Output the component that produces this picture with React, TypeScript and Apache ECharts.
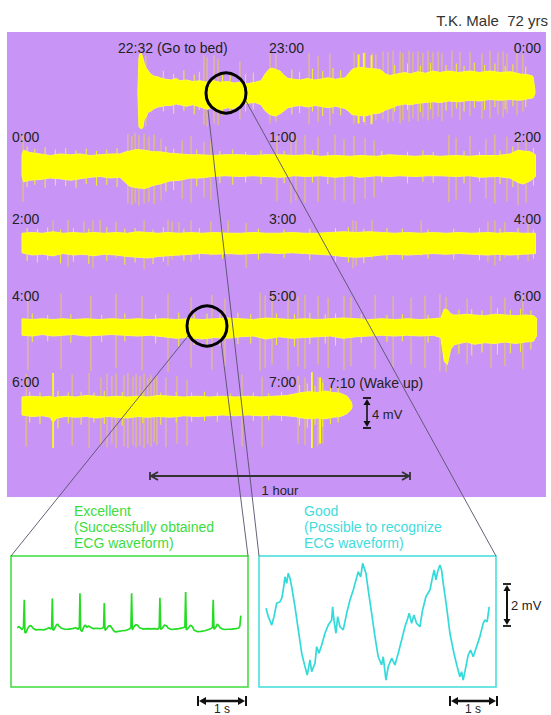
import React, { useEffect, useRef } from "react";
import * as echarts from "echarts";

// ---------- DATA ----------
// Each overnight row covers two clock hours.
const rowHourStart = [22, 0, 2, 4, 6];
const rowLabelLeft = ["22:32 (Go to bed)", "0:00", "2:00", "4:00", "6:00"];
const rowLabelMid = ["23:00", "1:00", "3:00", "5:00", "7:00"];
const rowLabelRight = ["0:00", "2:00", "4:00", "6:00", "7:10 (Wake up)"];

// Envelopes of the dense ECG trace: [clock hour, upper mV, lower mV]
const env1 = [
  [22.451, 0.3, -0.3], [22.455, 4.6, -4.6], [22.463, 5.2, -4.9], [22.47, 4.6, -4.8], [22.476, 3.8, -3.6],
  [22.483, 3.2, -3.4], [22.49, 2.9, -2.7], [22.5, 2.4, -2.6], [22.515, 2.1, -2.2], [22.53, 2.0, -2.0],
  [22.545, 1.8, -1.9], [22.56, 1.7, -1.8], [22.58, 1.6, -1.8], [22.6, 1.8, -1.6], [22.615, 1.5, -1.7],
  [22.64, 1.6, -1.9], [22.665, 1.4, -1.7], [22.693, 1.5, -2.0], [22.72, 1.3, -2.3], [22.745, 1.5, -2.0],
  [22.77, 1.3, -2.4], [22.8, 1.4, -2.1], [22.825, 1.2, -2.2], [22.848, 1.3, -1.7], [22.875, 1.1, -1.5],
  [22.907, 1.3, -1.4], [22.93, 1.5, -1.7], [22.946, 2.4, -2.5], [22.96, 3.0, -2.9], [22.973, 3.2, -3.1],
  [22.988, 3.0, -3.2], [23.004, 2.8, -2.9], [23.02, 2.2, -2.5], [23.035, 1.8, -2.1], [23.06, 1.7, -1.9],
  [23.082, 1.6, -1.8], [23.11, 1.8, -2.0], [23.14, 1.6, -1.8], [23.16, 1.7, -1.9], [23.19, 1.9, -2.1],
  [23.22, 1.7, -1.9], [23.257, 1.9, -2.2], [23.272, 2.5, -2.6], [23.284, 3.0, -3.0], [23.31, 3.3, -3.1],
  [23.335, 3.2, -3.2], [23.365, 3.1, -2.9], [23.393, 3.0, -2.8], [23.415, 2.4, -2.4], [23.432, 2.2, -2.2],
  [23.46, 2.4, -1.8], [23.49, 2.6, -1.6], [23.51, 2.4, -1.7], [23.54, 2.7, -1.5], [23.57, 2.5, -1.4],
  [23.6, 2.8, -1.3], [23.626, 2.6, -1.4], [23.66, 2.8, -1.2], [23.7, 2.6, -1.3], [23.743, 2.8, -1.1],
  [23.78, 2.6, -1.2], [23.82, 2.8, -1.0], [23.86, 2.6, -1.1], [23.9, 2.7, -1.0], [23.938, 2.4, -1.1],
  [23.97, 2.3, -0.9], [23.988, 2.1, -0.8], [23.996, 0.2, -0.2],
];
const env2 = [
  [0.0, 1.5, -1.3], [0.006, 2.1, -2.1], [0.03, 1.8, -1.9], [0.07, 1.6, -1.8], [0.11, 1.4, -1.6],
  [0.148, 1.6, -1.7], [0.19, 1.5, -1.9], [0.226, 1.6, -1.7], [0.265, 1.4, -1.5], [0.304, 1.5, -1.4],
  [0.345, 1.6, -1.6], [0.381, 1.6, -1.5], [0.405, 1.9, -2.3], [0.42, 2.0, -2.7], [0.445, 2.2, -2.9],
  [0.479, 2.1, -3.0], [0.51, 1.9, -2.6], [0.537, 1.9, -2.4], [0.575, 1.7, -2.0], [0.615, 1.6, -1.9],
  [0.655, 1.5, -1.6], [0.693, 1.5, -1.6], [0.74, 1.4, -1.4], [0.79, 1.5, -1.3], [0.848, 1.5, -1.4],
  [0.9, 1.4, -1.3], [0.95, 1.5, -1.4], [1.004, 1.5, -1.5], [1.06, 1.4, -1.3], [1.11, 1.5, -1.4],
  [1.16, 1.3, -1.3], [1.22, 1.4, -1.5], [1.28, 1.3, -1.3], [1.315, 1.4, -1.5], [1.38, 1.3, -1.3],
  [1.43, 1.5, -1.4], [1.471, 1.4, -1.3], [1.53, 1.3, -1.4], [1.58, 1.4, -1.3], [1.626, 1.3, -1.3],
  [1.69, 1.4, -1.4], [1.74, 1.3, -1.3], [1.782, 1.4, -1.5], [1.85, 1.4, -1.4], [1.899, 1.6, -1.6],
  [1.93, 2.1, -2.2], [1.95, 2.0, -2.4], [1.977, 1.9, -2.0], [1.998, 1.5, -1.4],
];
const env3 = [
  [2.0, 1.3, -1.3], [2.04, 1.4, -1.6], [2.08, 1.3, -1.5], [2.121, 1.5, -1.7], [2.16, 1.3, -1.4],
  [2.2, 1.4, -1.6], [2.241, 1.3, -1.5], [2.28, 1.4, -1.7], [2.32, 1.3, -1.5], [2.366, 1.4, -1.6],
  [2.41, 1.3, -1.8], [2.45, 1.5, -1.9], [2.49, 1.4, -2.0], [2.53, 1.3, -1.8], [2.568, 1.4, -1.7],
  [2.611, 1.3, -1.6], [2.658, 1.4, -1.5], [2.7, 1.3, -1.4], [2.75, 1.4, -1.5], [2.802, 1.3, -1.4],
  [2.85, 1.3, -1.5], [2.9, 1.4, -1.4], [2.95, 1.3, -1.3], [3.0, 1.3, -1.4], [3.05, 1.4, -1.3],
  [3.1, 1.3, -1.4], [3.15, 1.3, -1.5], [3.2, 1.4, -1.6], [3.25, 1.5, -1.8], [3.3, 1.4, -1.9],
  [3.35, 1.5, -1.8], [3.4, 1.4, -1.6], [3.45, 1.3, -1.5], [3.5, 1.4, -1.6], [3.553, 1.3, -1.5],
  [3.6, 1.4, -1.4], [3.65, 1.3, -1.5], [3.7, 1.4, -1.4], [3.75, 1.3, -1.5], [3.813, 1.4, -1.6],
  [3.85, 1.3, -1.5], [3.9, 1.4, -1.6], [3.95, 1.3, -1.5], [3.998, 1.3, -1.4],
];
const env4 = [
  [4.0, 1.1, -1.1], [4.04, 1.0, -1.2], [4.08, 1.1, -1.0], [4.12, 1.0, -1.2], [4.16, 1.1, -1.1],
  [4.2, 1.0, -1.0], [4.25, 1.1, -1.2], [4.3, 1.0, -1.1], [4.35, 1.1, -1.0], [4.4, 1.0, -1.1],
  [4.45, 1.1, -1.2], [4.5, 1.0, -1.1], [4.55, 1.1, -1.3], [4.6, 1.0, -1.5], [4.65, 1.1, -1.4],
  [4.7, 1.0, -1.6], [4.75, 1.1, -1.4], [4.8, 1.2, -1.5], [4.85, 1.1, -1.3], [4.9, 1.0, -1.2],
  [4.95, 1.2, -1.6], [5.0, 1.1, -1.3], [5.05, 1.0, -1.5], [5.1, 1.1, -1.4], [5.15, 1.0, -1.3],
  [5.2, 1.1, -1.2], [5.25, 1.2, -1.5], [5.3, 1.1, -1.3], [5.35, 1.0, -1.2], [5.4, 1.1, -1.1],
  [5.45, 1.0, -1.2], [5.5, 1.1, -1.1], [5.55, 1.0, -1.2], [5.6, 1.1, -1.1], [5.63, 1.2, -1.4],
  [5.643, 2.4, -4.6], [5.655, 2.3, -5.0], [5.668, 1.8, -3.0], [5.68, 1.6, -2.4], [5.7, 1.6, -2.2],
  [5.73, 1.7, -2.0], [5.76, 1.6, -2.3], [5.8, 1.5, -2.1], [5.84, 1.7, -2.2], [5.88, 1.6, -2.0],
  [5.92, 1.5, -2.2], [5.96, 1.6, -2.0], [5.99, 1.5, -1.9], [6.002, 1.2, -1.2],
];
const env5 = [
  [6.0, 1.2, -1.2], [6.04, 1.3, -1.4], [6.08, 1.2, -1.3], [6.11, 1.3, -1.5], [6.121, 1.1, -2.2],
  [6.135, 1.2, -1.6], [6.17, 1.3, -1.4], [6.21, 1.2, -1.5], [6.25, 1.4, -1.4], [6.29, 1.3, -1.6],
  [6.33, 1.2, -1.4], [6.37, 1.3, -1.5], [6.41, 1.2, -1.6], [6.45, 1.3, -1.4], [6.49, 1.2, -1.5],
  [6.53, 1.4, -1.4], [6.58, 1.3, -1.5], [6.63, 1.2, -1.3], [6.68, 1.3, -1.4], [6.73, 1.2, -1.3],
  [6.78, 1.3, -1.2], [6.83, 1.2, -1.3], [6.88, 1.3, -1.2], [6.93, 1.2, -1.3], [6.98, 1.3, -1.2],
  [7.03, 1.4, -1.3], [7.06, 1.6, -1.4], [7.09, 1.8, -1.6], [7.12, 1.9, -1.7], [7.15, 1.8, -1.6],
  [7.18, 2.0, -1.7], [7.21, 1.8, -1.5], [7.24, 1.7, -1.4], [7.265, 1.3, -1.0], [7.28, 0.6, -0.5],
  [7.284, 0.2, -0.2],
];

// Tall artefact spikes: [clock hour, top mV, bottom mV]
const spikes1 = [
  [22.467, 5.0, -4.8], [22.482, 4.8, -4.6], [22.708, 4.9, -4.4], [22.72, 4.6, -4.6], [22.747, 4.9, -4.2],
  [22.763, 4.4, -4.5], [22.848, 4.1, -3.6], [22.965, 5.2, -4.2], [22.988, 5.0, -4.0], [23.117, 5.2, -4.3],
  [23.152, 4.8, -4.0], [23.198, 5.1, -4.4], [23.292, 5.3, -4.3], [23.307, 5.0, -4.1], [23.335, 5.3, -4.4],
  [23.362, 5.2, -4.0], [23.377, 5.0, -3.8], [23.405, 5.4, -3.6], [23.424, 5.3, -4.1], [23.444, 5.5, -3.9],
  [23.471, 5.4, -4.2], [23.482, 5.2, -3.7], [23.506, 5.5, -4.0], [23.521, 5.3, -3.5], [23.541, 5.4, -3.9],
  [23.56, 5.2, -3.4], [23.58, 5.5, -3.8], [23.599, 5.3, -3.6], [23.619, 5.4, -3.3], [23.634, 5.2, -3.9],
  [23.673, 5.5, -3.4], [23.704, 5.3, -3.7], [23.743, 5.4, -3.2], [23.79, 5.2, -3.6], [23.821, 5.5, -3.5],
  [23.852, 5.3, -3.0], [23.872, 5.4, -3.4], [23.887, 5.1, -2.8], [23.926, 5.3, -3.1], [23.949, 5.0, -2.6],
];
const spikes2 = [
  [0.004, 4.2, -4.8], [0.412, 4.3, -5.0], [0.428, 4.0, -5.2], [0.44, 4.4, -4.9], [0.455, 4.1, -5.3],
  [0.475, 4.3, -5.0], [0.494, 3.9, -4.8], [0.514, 4.2, -5.1], [0.541, 3.6, -4.6], [0.623, 3.4, -4.4],
  [0.658, 4.0, -4.9], [0.708, 3.2, -4.2], [0.735, 3.5, -4.5], [0.992, 4.0, -4.7], [1.047, 4.3, -5.0],
  [1.066, 3.8, -4.6], [1.101, 4.1, -4.9], [1.152, 3.9, -4.8], [1.218, 4.2, -4.5], [1.253, 3.6, -4.7],
  [1.292, 4.0, -5.0], [1.335, 3.7, -4.4], [1.37, 3.4, -4.2], [1.661, 4.1, -4.8], [1.689, 3.8, -4.5],
  [1.743, 4.0, -4.9], [1.805, 3.6, -4.3], [1.84, 4.2, -5.0], [1.887, 3.9, -4.7], [1.93, 4.3, -5.2],
  [1.961, 4.1, -4.9],
];
const spikes3 = [
  [2.121, 3.0, -1.8], [2.179, 3.1, -3.2], [2.241, 2.9, -1.7], [2.276, 3.0, -3.4], [2.304, 3.1, -1.6],
  [2.366, 2.8, -2.0], [2.475, 3.0, -3.5], [2.568, 3.1, -3.0], [2.584, 2.9, -2.2], [2.611, 2.8, -1.8],
  [2.658, 3.0, -2.5], [2.735, 2.9, -1.7], [2.802, 3.0, -1.8], [2.872, 2.7, -3.3], [3.288, 3.0, -3.4],
  [3.3, 2.9, -3.0], [3.362, 3.1, -2.2], [3.553, 3.0, -1.8], [3.813, 2.9, -2.6], [3.84, 3.0, -3.0],
  [3.879, 2.8, -2.0], [3.969, 3.0, -2.4],
];
const spikes4 = [
  [4.023, 4.3, -5.8], [4.152, 4.5, -5.6], [4.268, 4.2, -5.9], [4.366, 4.4, -5.5], [4.467, 4.1, -5.8],
  [4.568, 4.5, -6.0], [4.658, 4.0, -5.4], [4.739, 4.3, -5.7], [4.79, 3.8, -5.2], [4.926, 4.6, -5.9],
  [4.946, 4.2, -5.5], [4.973, 4.4, -5.0], [5.035, 4.5, -5.8], [5.074, 4.0, -5.3], [5.101, 4.3, -5.6],
  [5.152, 4.1, -5.0], [5.191, 3.9, -5.5], [5.253, 4.2, -5.7], [5.28, 4.0, -5.2], [5.374, 4.3, -5.6],
  [5.444, 4.1, -5.4], [5.514, 3.9, -5.0], [5.568, 4.2, -5.5], [5.626, 4.4, -5.9], [5.65, 4.0, -6.0],
  [5.732, 3.8, -5.0], [5.825, 4.1, -5.4], [5.879, 3.9, -5.2], [5.949, 4.2, -5.6],
];
const spikes5 = [
  [6.016, 4.3, -5.4], [6.195, 4.2, -5.3], [6.261, 4.4, -5.6], [6.307, 3.8, -5.2], [6.331, 4.3, -5.5],
  [6.35, 4.0, -5.0], [6.366, 4.4, -5.6], [6.397, 4.1, -5.4], [6.412, 4.4, -5.6], [6.432, 3.9, -5.2],
  [6.444, 4.2, -5.5], [6.459, 4.0, -5.3], [6.475, 4.3, -5.6], [6.49, 3.7, -5.0], [6.502, 4.1, -5.4],
  [6.514, 3.6, -4.8], [6.525, 4.0, -5.2], [6.56, 3.8, -5.5], [6.603, 4.0, -5.0], [6.642, 3.5, -5.3],
  [6.856, 4.2, -5.4], [6.934, 3.9, -5.5], [7.074, 4.0, -5.0], [7.101, 3.8, -5.2], [7.152, 3.9, -5.3],
  [7.171, 3.6, -5.0],
];
// Bright, thicker bursts
const bright1 = [[22.459, 5.1, -4.8], [23.31, 5.0, -4.2], [23.33, 5.2, -4.0], [23.36, 4.9, -4.3]];
const bright5 = [[6.121, 4.4, -5.6], [7.128, 4.5, -5.6], [7.16, 3.8, -5.0]];
// Short noise bursts poking out of the band edges
const hair1 = [
  [22.55, 2.8, -2.6], [22.59, 2.4, -2.9], [22.63, 2.9, -2.5], [22.67, 2.3, -3.0], [22.69, 2.7, -2.4],
  [22.78, 2.5, -3.1], [22.81, 2.2, -2.8], [22.87, 2.4, -2.6], [22.9, 2.6, -2.3], [23.05, 3.0, -3.0],
  [23.08, 2.7, -2.8], [23.13, 3.1, -2.6], [23.17, 2.8, -3.2], [23.21, 3.2, -2.9], [23.24, 2.9, -3.1],
  [23.45, 3.6, -2.6], [23.5, 3.8, -2.4], [23.55, 3.5, -2.7], [23.59, 3.9, -2.3], [23.65, 3.6, -2.5],
  [23.69, 3.8, -2.2], [23.72, 3.5, -2.6], [23.76, 3.9, -2.1], [23.8, 3.6, -2.4], [23.84, 3.8, -2.0],
  [23.88, 3.5, -2.3], [23.91, 3.7, -1.9], [23.96, 3.4, -2.0],
];
const hair2 = [
  [0.02, 2.6, -2.8], [0.05, 2.3, -2.5], [0.09, 2.5, -2.9], [0.13, 2.2, -2.6], [0.17, 2.4, -2.7],
  [0.21, 2.1, -2.9], [0.25, 2.3, -2.4], [0.29, 2.0, -2.6], [0.33, 2.2, -2.5], [0.37, 2.4, -2.8],
  [0.56, 2.6, -3.4], [0.59, 2.3, -3.2], [0.68, 2.2, -2.7], [0.77, 2.0, -2.3], [0.82, 2.2, -2.5],
  [0.87, 1.9, -2.2], [0.93, 2.1, -2.4], [1.02, 2.0, -2.3], [1.13, 2.1, -2.2], [1.19, 1.9, -2.4],
  [1.4, 2.0, -2.2], [1.5, 1.9, -2.3], [1.56, 2.1, -2.1], [1.6, 1.9, -2.2], [1.72, 2.0, -2.3],
  [1.78, 1.9, -2.1], [1.86, 2.1, -2.4], [1.91, 2.6, -2.8], [1.99, 2.4, -2.6],
];
const hair3 = [
  [2.02, 2.0, -2.4], [2.06, 1.9, -2.6], [2.1, 2.1, -2.3], [2.15, 1.8, -2.7], [2.2, 2.0, -2.5],
  [2.26, 1.9, -2.8], [2.33, 2.1, -2.4], [2.4, 1.9, -2.9], [2.44, 2.0, -2.6], [2.51, 1.8, -2.8],
  [2.55, 2.1, -2.5], [2.63, 1.9, -2.4], [2.69, 2.0, -2.2], [2.78, 1.8, -2.1], [2.92, 1.9, -2.2],
  [3.02, 1.8, -2.0], [3.12, 1.9, -2.3], [3.22, 2.0, -2.5], [3.27, 2.1, -2.6], [3.33, 1.9, -2.7],
  [3.42, 2.0, -2.3], [3.48, 1.9, -2.2], [3.58, 1.8, -2.1], [3.68, 1.9, -2.2], [3.78, 2.0, -2.3],
  [3.86, 1.9, -2.4], [3.93, 2.0, -2.2], [3.99, 1.8, -2.1],
];
const hair4 = [
  [4.04, 1.8, -2.0], [4.1, 1.6, -1.9], [4.19, 1.7, -2.1], [4.31, 1.6, -2.0], [4.4, 1.8, -1.9],
  [4.52, 1.7, -2.2], [4.61, 1.9, -2.6], [4.67, 1.7, -2.4], [4.72, 1.8, -2.7], [4.77, 1.7, -2.5],
  [4.84, 1.9, -2.3], [4.89, 1.7, -2.2], [4.99, 1.8, -2.4], [5.06, 1.7, -2.6], [5.12, 1.9, -2.3],
  [5.18, 1.7, -2.2], [5.22, 1.8, -2.5], [5.32, 1.7, -2.1], [5.42, 1.6, -2.0], [5.48, 1.7, -1.9],
  [5.58, 1.6, -2.1], [5.7, 2.3, -3.6], [5.75, 2.4, -3.8], [5.79, 2.2, -3.4], [5.85, 2.5, -3.7],
  [5.9, 2.3, -3.5], [5.94, 2.4, -3.3], [5.98, 2.2, -3.0],
];
const hair5 = [
  [6.03, 1.9, -2.2], [6.07, 1.8, -2.4], [6.14, 2.0, -3.0], [6.18, 1.8, -2.3], [6.23, 1.9, -2.5],
  [6.28, 1.8, -2.2], [6.32, 2.0, -2.4], [6.39, 1.9, -2.6], [6.47, 2.0, -2.3], [6.54, 1.8, -2.5],
  [6.6, 1.9, -2.2], [6.66, 1.8, -2.1], [6.71, 1.9, -2.0], [6.76, 1.8, -2.1], [6.81, 1.7, -1.9],
  [6.9, 1.8, -2.0], [6.96, 1.7, -1.9], [7.01, 1.9, -2.0], [7.08, 2.8, -2.6], [7.11, 3.0, -2.9],
  [7.14, 2.7, -2.5], [7.17, 3.1, -2.8], [7.2, 2.6, -2.4], [7.23, 2.5, -2.2],
];

const envelopes = [env1, env2, env3, env4, env5];
const spikes = [spikes1, spikes2, spikes3, spikes4, spikes5];
const brights = [bright1, [], [], [], bright5];
const hairs = [hair1, hair2, hair3, hair4, hair5];

// Close-up traces: [seconds, mV]
const excellentECG = [
  [0.13, 0.02], [0.17, 0.08], [0.2, 0.0], [0.235, -0.06], [0.26, 0.05], [0.277, 1.36], [0.29, -0.2],
  [0.31, -0.22], [0.34, -0.05], [0.38, 0.1], [0.42, 0.12], [0.46, 0.0], [0.52, -0.08], [0.6, -0.06],
  [0.68, -0.08], [0.74, -0.04], [0.79, 0.02], [0.83, -0.04], [0.848, 0.05], [0.861, 1.42], [0.875, -0.1],
  [0.9, -0.05], [0.94, 0.14], [0.97, 0.2], [1.0, 0.1], [1.05, 0.0], [1.12, -0.05], [1.2, -0.04],
  [1.28, -0.02], [1.35, 0.02], [1.4, -0.05], [1.425, 0.05], [1.4375, 1.66], [1.45, -0.08], [1.48, -0.15],
  [1.52, 0.08], [1.55, 0.15], [1.58, 0.05], [1.62, 0.1], [1.66, 0.05], [1.72, -0.02], [1.78, 0.0],
  [1.84, -0.02], [1.9, 0.0], [1.93, 0.04], [1.944, 1.2], [1.96, -0.1], [2.0, 0.0], [2.03, 0.1],
  [2.07, 0.12], [2.1, 0.02], [2.14, -0.12], [2.18, -0.18], [2.24, -0.15], [2.32, -0.12], [2.4, -0.1],
  [2.47, -0.04], [2.5, 0.04], [2.514, 1.66], [2.53, -0.08], [2.56, 0.06], [2.6, 0.17], [2.64, 0.14],
  [2.68, 0.02], [2.75, -0.04], [2.84, -0.02], [2.92, -0.03], [3.0, -0.02], [3.06, -0.05], [3.09, 0.05],
  [3.104, 1.45], [3.12, -0.06], [3.16, 0.02], [3.2, 0.15], [3.24, 0.12], [3.28, 0.0], [3.34, -0.06],
  [3.42, -0.04], [3.5, -0.02], [3.58, 0.02], [3.625, 0.05], [3.64, 1.72], [3.655, -0.08], [3.7, 0.02],
  [3.74, 0.14], [3.78, 0.08], [3.82, -0.1], [3.88, -0.16], [3.96, -0.15], [4.04, -0.12], [4.12, -0.06],
  [4.18, 0.0], [4.2, 0.06], [4.215, 1.36], [4.23, -0.05], [4.27, 0.05], [4.3, 0.2], [4.33, 0.12],
  [4.37, 0.0], [4.44, -0.06], [4.52, -0.05], [4.6, -0.04], [4.68, -0.02], [4.74, 0.0], [4.77, 0.1],
  [4.79, 0.6],
];
const goodECG = [
  [0.146, 0.63], [0.194, 0.23], [0.265, -0.17], [0.3125, 0.23], [0.369, 0.87], [0.4375, 0.94],
  [0.473, 1.1], [0.506, 1.5], [0.542, 2.13], [0.577, 1.82], [0.61, 2.3], [0.646, 2.06], [0.681, 1.66],
  [0.75, 0.7], [0.819, -0.4], [0.89, -1.51], [0.958, -2.15], [1.006, -2.55], [1.0625, -1.83],
  [1.098, -2.39], [1.167, -1.99], [1.202, -1.2], [1.25, -1.51], [1.306, -1.12], [1.375, -0.56],
  [1.444, -0.17], [1.515, 0.07], [1.535, 0.7], [1.5625, 0.07], [1.604, -0.56], [1.64, 0.23],
  [1.6875, -0.25], [1.756, -0.4], [1.827, 0.39], [1.896, 1.02], [1.965, 1.5], [2.021, 1.98],
  [2.069, 2.37], [2.119, 2.13], [2.16, 2.77], [2.194, 2.53], [2.229, 2.3], [2.277, 1.5], [2.348, 0.39],
  [2.417, -0.72], [2.485, -1.68], [2.556, -2.07], [2.59, -1.68], [2.646, -2.79], [2.694, -2.15],
  [2.765, -1.75], [2.833, -2.07], [2.902, -1.51], [2.973, -0.88], [3.042, -0.25], [3.09, 0.07],
  [3.131, 0.39], [3.181, -0.09], [3.229, 0.31], [3.285, -0.09], [3.354, -0.25], [3.41, 0.55],
  [3.479, 1.18], [3.5625, 1.5], [3.619, 2.13], [3.652, 2.45], [3.6875, 1.98], [3.723, 2.37],
  [3.771, 2.69], [3.806, 2.45], [3.84, 1.82], [3.91, 0.7], [3.979, -0.56], [4.0625, -1.51],
  [4.131, -2.15], [4.1875, -2.63], [4.223, -2.39], [4.256, -2.79], [4.3125, -2.15], [4.36, -1.6],
  [4.41, -1.36], [4.465, -1.68], [4.535, -1.2], [4.604, -0.72], [4.673, -0.09], [4.708, 0.07],
  [4.756, -0.01], [4.798, 0.7],
];

// ---------- LAYOUT / STYLE ----------
const FONT = "'Liberation Sans', Arial, sans-serif";
const PURPLE = "#c895f7";
const GREEN = "#3ddc3d";
const CYAN = "#3fdcdc";
const rowCenterY = [92, 166, 243, 327, 406];
const rowLabelY = [47.5, 137, 219, 296, 382];

function bandSeries(gi: number, env: number[][]) {
  return {
    type: "custom",
    xAxisIndex: gi,
    yAxisIndex: gi,
    data: [[env[0][0], 0]],
    silent: true,
    clip: false,
    z: 4,
    renderItem: (_p: any, api: any) => {
      const pts: number[][] = [];
      for (const e of env) pts.push(api.coord([e[0], e[1]]));
      for (let i = env.length - 1; i >= 0; i--) pts.push(api.coord([env[i][0], env[i][2]]));
      return {
        type: "polygon",
        shape: { points: pts },
        style: { fill: "#ffff00", stroke: "#ffff33", lineWidth: 1 },
      };
    },
  };
}

function spikeSeries(gi: number, data: number[][], color: string, width: number, z: number) {
  return {
    type: "custom",
    xAxisIndex: gi,
    yAxisIndex: gi,
    data,
    silent: true,
    clip: false,
    z,
    renderItem: (_p: any, api: any) => {
      const a = api.coord([api.value(0), api.value(1)]);
      const b = api.coord([api.value(0), api.value(2)]);
      return {
        type: "line",
        shape: { x1: a[0], y1: a[1], x2: b[0], y2: b[1] },
        style: { stroke: color, lineWidth: width },
      };
    },
  };
}

function text(t: string, x: number, y: number, color: string, size: number, align = "left") {
  return {
    type: "text",
    x,
    y,
    z: 50,
    style: { text: t, fill: color, font: `${size}px ${FONT}`, textAlign: align, textVerticalAlign: "middle" },
  };
}

function seg(x1: number, y1: number, x2: number, y2: number, color: string, w: number, z = 40) {
  return { type: "line", z, shape: { x1, y1, x2, y2 }, style: { stroke: color, lineWidth: w } };
}

function hArrowOpen(x1: number, x2: number, y: number, color: string, w: number) {
  return [
    seg(x1, y, x2, y, color, w),
    { type: "polyline", z: 40, shape: { points: [[x1 + 8, y - 4], [x1 + 1, y], [x1 + 8, y + 4]] }, style: { stroke: color, lineWidth: w, fill: "none" } },
    { type: "polyline", z: 40, shape: { points: [[x2 - 8, y - 4], [x2 - 1, y], [x2 - 8, y + 4]] }, style: { stroke: color, lineWidth: w, fill: "none" } },
    seg(x1, y - 4, x1, y + 4, color, w),
    seg(x2, y - 4, x2, y + 4, color, w),
  ];
}

function hArrowSolid(x1: number, x2: number, y: number, color: string) {
  return [
    seg(x1 + 4, y, x2 - 4, y, color, 2.5),
    { type: "polygon", z: 40, shape: { points: [[x1 + 1, y], [x1 + 8, y - 4], [x1 + 8, y + 4]] }, style: { fill: color } },
    { type: "polygon", z: 40, shape: { points: [[x2 - 1, y], [x2 - 8, y - 4], [x2 - 8, y + 4]] }, style: { fill: color } },
    seg(x1, y - 5, x1, y + 5, color, 2),
    seg(x2, y - 5, x2, y + 5, color, 2),
  ];
}

function vArrowSolid(x: number, y1: number, y2: number, color: string, w: number) {
  return [
    seg(x, y1 + 3, x, y2 - 3, color, w),
    { type: "polygon", z: 40, shape: { points: [[x, y1 + 1], [x - 3.5, y1 + 7], [x + 3.5, y1 + 7]] }, style: { fill: color } },
    { type: "polygon", z: 40, shape: { points: [[x, y2 - 1], [x - 3.5, y2 - 7], [x + 3.5, y2 - 7]] }, style: { fill: color } },
    seg(x - 4, y1, x + 4, y1, color, 1.8),
    seg(x - 4, y2, x + 4, y2, color, 1.8),
  ];
}

export default function App() {
  const ref = useRef<HTMLDivElement>(null);
  useEffect(() => {
    if (!ref.current) return;
    const chart = echarts.init(ref.current, undefined, { renderer: "svg" });

    const grids: any[] = [];
    const xAxes: any[] = [];
    const yAxes: any[] = [];
    const series: any[] = [];

    rowHourStart.forEach((h, i) => {
      grids.push({ left: 22, width: 514, top: rowCenterY[i] - 60, height: 120, show: false });
      xAxes.push({ type: "value", gridIndex: i, min: h, max: h + 2, show: false });
      yAxes.push({ type: "value", gridIndex: i, min: -8, max: 8, show: false });
      series.push(spikeSeries(i, spikes[i], "#ecc95a", 1, 3));
      series.push(spikeSeries(i, hairs[i], "#f6f020", 1, 3));
      series.push(bandSeries(i, envelopes[i]));
      if (brights[i].length) series.push(spikeSeries(i, brights[i], "#ffff00", 1.8, 5));
    });

    // close-up boxes
    grids.push({ left: 11, top: 556, width: 237, height: 131, show: true, borderColor: GREEN, borderWidth: 1.5, backgroundColor: "rgba(0,0,0,0)" });
    xAxes.push({ type: "value", gridIndex: 5, min: 0, max: 4.94, show: false });
    yAxes.push({ type: "value", gridIndex: 5, min: -2.8, max: 3.44, show: false });
    grids.push({ left: 259, top: 556, width: 237, height: 131, show: true, borderColor: CYAN, borderWidth: 1.5, backgroundColor: "rgba(0,0,0,0)" });
    xAxes.push({ type: "value", gridIndex: 6, min: 0, max: 4.94, show: false });
    yAxes.push({ type: "value", gridIndex: 6, min: -3.12, max: 3.12, show: false });

    series.push({
      type: "line", xAxisIndex: 5, yAxisIndex: 5, data: excellentECG, symbol: "none",
      lineStyle: { color: "#22dd22", width: 1.7 }, z: 5, silent: true,
    });
    series.push({
      type: "line", xAxisIndex: 6, yAxisIndex: 6, data: goodECG, symbol: "none",
      lineStyle: { color: "#33dada", width: 1.7 }, z: 5, silent: true,
    });

    const g: any[] = [];
    g.push({ type: "rect", z: -10, shape: { x: 7, y: 32, width: 539, height: 465 }, style: { fill: PURPLE } });
    g.push(text("T.K. Male  72 yrs", 548, 20, "#333", 15, "right"));
    rowHourStart.forEach((_h, i) => {
      g.push(text(rowLabelLeft[i], i === 0 ? 118 : 12, rowLabelY[i], "#222", 14, "left"));
      g.push(text(rowLabelMid[i], 269, rowLabelY[i], "#222", 14, "left"));
      if (i < 4) g.push(text(rowLabelRight[i], 541, rowLabelY[i], "#222", 14, "right"));
      else g.push(text(rowLabelRight[i], 328, rowLabelY[i] + 1, "#222", 14, "left"));
    });

    // zoom lines
    const lc = "#55506a";
    g.push(seg(208, 110, 259, 556, lc, 0.9, 30));
    g.push(seg(246, 101, 496, 556, lc, 0.9, 30));
    g.push(seg(188, 336, 11, 556, lc, 0.9, 30));
    g.push(seg(221, 341, 248, 556, lc, 0.9, 30));
    // circles
    g.push({ type: "circle", z: 45, shape: { cx: 226, cy: 93, r: 20 }, style: { fill: "none", stroke: "#000", lineWidth: 3 } });
    g.push({ type: "circle", z: 45, shape: { cx: 207, cy: 326, r: 20 }, style: { fill: "none", stroke: "#000", lineWidth: 3 } });

    // scale bars
    g.push(...hArrowOpen(150, 410, 476, "#333", 1.8));
    g.push(text("1 hour", 280, 490, "#222", 13, "center"));
    g.push(...vArrowSolid(367, 398, 428, "#111", 1.6));
    g.push(text("4 mV", 372, 414, "#222", 13, "left"));
    g.push(...vArrowSolid(507, 584, 626, "#111", 2));
    g.push(text("2 mV", 511, 605, "#222", 13, "left"));
    g.push(...hArrowSolid(198, 246, 701, "#111"));
    g.push(text("1 s", 222, 709, "#222", 12, "center"));
    g.push(...hArrowSolid(450, 497, 701, "#111"));
    g.push(text("1 s", 473, 709, "#222", 12, "center"));

    // captions
    g.push(text("Excellent", 74, 511, GREEN, 14));
    g.push(text("(Successfully obtained", 74, 527, GREEN, 14));
    g.push(text("ECG waveform)", 74, 543, GREEN, 14));
    g.push(text("Good", 304, 511, CYAN, 14));
    g.push(text("(Possible to recognize", 304, 527, CYAN, 14));
    g.push(text("ECG waveform)", 304, 543, CYAN, 14));

    chart.setOption({
      animation: false,
      backgroundColor: "#ffffff",
      grid: grids,
      xAxis: xAxes,
      yAxis: yAxes,
      series,
      graphic: { elements: g },
    });
    return () => chart.dispose();
  }, []);
  return <div ref={ref} style={{ position: "fixed", left: 0, top: 0, width: 551, height: 715 }} />;
}
